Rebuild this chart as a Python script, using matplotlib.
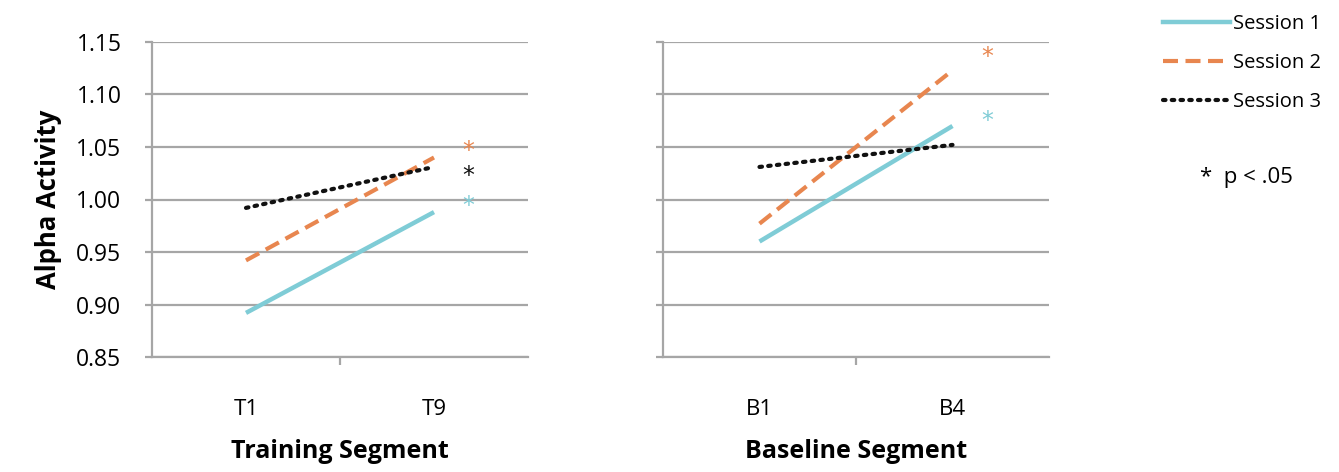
import matplotlib
matplotlib.use('Agg')
import matplotlib.pyplot as plt
from matplotlib.lines import Line2D

plt.rcParams['font.family'] = ['Open Sans', 'DejaVu Sans']

# data
train_cats = ['T1', 'T9']
base_cats = ['B1', 'B4']
sessions = ['Session 1', 'Session 2', 'Session 3']
train_vals = [[0.892, 0.988], [0.942, 1.040], [0.992, 1.031]]
base_vals = [[0.960, 1.070], [0.977, 1.123], [1.031, 1.052]]
# significance asterisks (which session, y position)
train_sig = [(1, 1.046), (2, 1.022), (0, 0.994)]
base_sig = [(1, 1.136), (0, 1.075)]

colors = ['#7FCCD6', '#E8864F', '#111111']
styles = [dict(ls='-', lw=3.2),
          dict(ls=(0, (3.6, 1.8)), lw=3.0),
          dict(ls=(0, (0.6, 1.5)), lw=3.0, dash_capstyle='round')]
grid_c = '#a6a6a6'

fig = plt.figure(figsize=(13.39, 4.72), dpi=100)
ax1 = fig.add_axes([152/1339, 1-357/472, 376/1339, 315/472])
ax2 = fig.add_axes([663/1339, 1-357/472, 386/1339, 315/472])

def setup(ax, cats, vals, sig, xlabel, show_y):
    xs = list(range(len(cats)))
    for i in range(len(sessions)):
        ax.plot(xs, vals[i], color=colors[i], solid_capstyle='butt', **styles[i], zorder=3)
    for si, yv in sig:
        ax.text(1.18, yv, '*', color=colors[si], fontsize=17, ha='center', va='center',
                family='DejaVu Sans')
    ax.set_xlim(-0.5, 1.5)
    ax.set_ylim(0.85, 1.15)
    ax.set_yticks([0.85, 0.90, 0.95, 1.00, 1.05, 1.10, 1.15])
    ax.yaxis.grid(True, color=grid_c, lw=1.6)
    ax.set_axisbelow(True)
    for s in ['top', 'right']:
        ax.spines[s].set_visible(False)
    for s in ['left', 'bottom']:
        ax.spines[s].set_color(grid_c)
        ax.spines[s].set_linewidth(1.6)
    ax.set_xticks(xs)
    ax.set_xticklabels(cats)
    ax.set_xticks([0.5], minor=True)
    ax.tick_params(axis='x', which='major', length=0, pad=30, labelsize=16)
    ax.tick_params(axis='x', which='minor', length=6, width=1.6, color=grid_c)
    ax.tick_params(axis='y', length=5, width=1.6, color=grid_c, labelsize=16.5, pad=17)
    if show_y:
        ax.set_yticklabels(['%.2f' % v for v in ax.get_yticks()])
        ax.set_ylabel('Alpha Activity', fontsize=18.5, fontweight='bold', labelpad=10)
    else:
        ax.set_yticklabels([])
    ax.set_xlabel(xlabel, fontsize=18, fontweight='bold', labelpad=14)

setup(ax1, train_cats, train_vals, train_sig, 'Training Segment', True)
setup(ax2, base_cats, base_vals, base_sig, 'Baseline Segment', False)

handles = [Line2D([], [], color=colors[i], **styles[i]) for i in range(3)]
fig.legend(handles, sessions, loc='upper left', bbox_to_anchor=(1155/1339, 1-6/472),
           frameon=False, fontsize=14.5, handlelength=3.3, handletextpad=0.15,
           labelspacing=0.95, borderaxespad=0)
fig.text(1200/1339, 1-177/472, '*  p < .05', fontsize=16, va='center', ha='left')

fig.savefig('out.png', dpi=100)
